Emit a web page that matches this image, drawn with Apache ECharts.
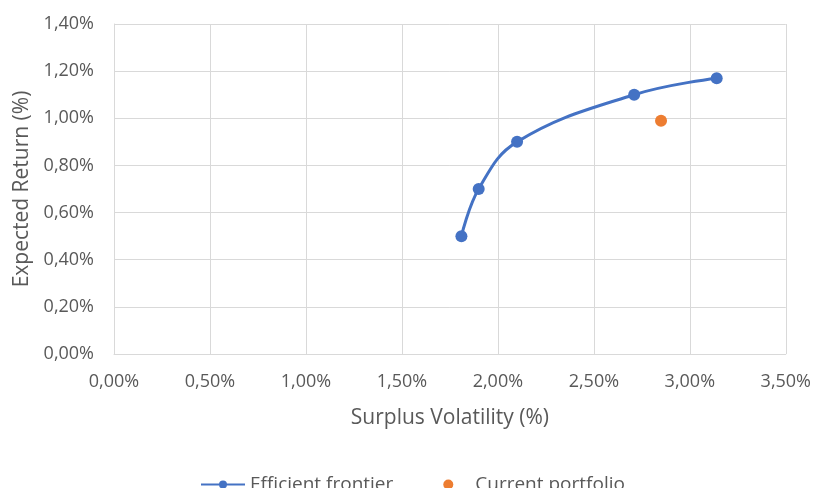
<!DOCTYPE html>
<html>
<head>
<meta charset="utf-8">
<script src="https://cdn.jsdelivr.net/npm/echarts@6/dist/echarts.min.js"></script>
<style>
html,body{margin:0;padding:0;background:#fff;}
#chart{width:814px;height:488px;}
</style>
</head>
<body>
<div id="chart"></div>
<script>
// Data (values in percent)
const frontierVolatility = [1.81, 1.90, 2.10, 2.71, 3.14];
const frontierReturn = [0.50, 0.70, 0.90, 1.10, 1.17];
const currentVolatility = [2.85];
const currentReturn = [0.99];
const seriesNames = ['Efficient frontier', 'Current portfolio'];
const xAxisTitle = 'Surplus Volatility (%)';
const yAxisTitle = 'Expected Return (%)';

const FONT = 'Open Sans';
const TXT = '#595959';
const fmt = v => v.toFixed(2).replace('.', ',') + '%';

const chart = echarts.init(document.getElementById('chart'));
chart.setOption({
  animation: false,
  backgroundColor: '#ffffff',
  textStyle: { fontFamily: FONT, color: TXT },
  grid: { left: 114, right: 27.5, top: 24, bottom: 134, containLabel: false },
  xAxis: {
    type: 'value', min: 0, max: 3.5, interval: 0.5,
    name: xAxisTitle, nameLocation: 'middle', nameGap: 54,
    nameTextStyle: { fontFamily: FONT, fontSize: 21, color: TXT },
    axisLine: { show: true, lineStyle: { color: '#d9d9d9', width: 1 } },
    axisTick: { show: false },
    axisLabel: { formatter: fmt, fontFamily: FONT, fontSize: 18, color: TXT, margin: 19 },
    splitLine: { show: true, lineStyle: { color: '#d9d9d9', width: 1 } }
  },
  yAxis: {
    type: 'value', min: 0, max: 1.4, interval: 0.2,
    name: yAxisTitle, nameLocation: 'middle', nameGap: 78, nameRotate: 90,
    nameTextStyle: { fontFamily: FONT, fontSize: 21, color: TXT },
    axisLine: { show: true, lineStyle: { color: '#d9d9d9', width: 1 } },
    axisTick: { show: false },
    axisLabel: { formatter: fmt, fontFamily: FONT, fontSize: 18, color: TXT, margin: 20 },
    splitLine: { show: true, lineStyle: { color: '#d9d9d9', width: 1 } }
  },
  legend: {
    left: 195, top: 470,
    itemWidth: 44, itemHeight: 10, itemGap: 50,
    textStyle: { fontFamily: FONT, fontSize: 19, color: TXT },
    data: seriesNames
  },
  series: [
    {
      name: seriesNames[0], type: 'line', smooth: 0.4,
      data: frontierVolatility.map((x, i) => [x, frontierReturn[i]]),
      symbol: 'circle', symbolSize: 12,
      itemStyle: { color: '#4472C4', opacity: 1 },
      lineStyle: { color: '#4472C4', width: 3 }
    },
    {
      name: seriesNames[1], type: 'scatter',
      data: currentVolatility.map((x, i) => [x, currentReturn[i]]),
      symbol: 'circle', symbolSize: 12,
      itemStyle: { color: '#ED7D31', opacity: 1 }
    }
  ]
});
</script>
</body>
</html>
